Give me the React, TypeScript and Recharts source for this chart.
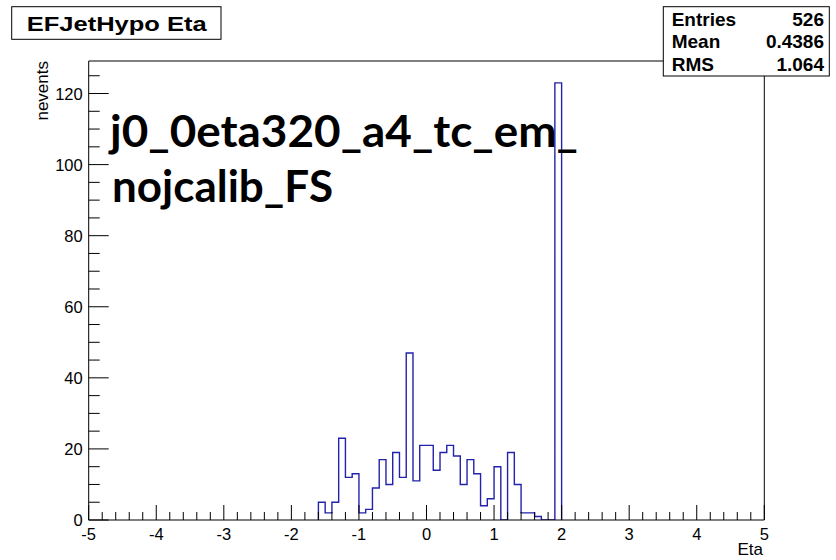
import React from "react";
import { ComposedChart, Line, XAxis, YAxis, ReferenceLine } from "recharts";

// Histogram bins (low edge, width 0.1) and counts
const binLow = [
  -1.6, -1.5, -1.4, -1.3, -1.2, -1.1, -1.0, -0.9, -0.8, -0.7, -0.6, -0.5,
  -0.4, -0.3, -0.2, -0.1, 0.0, 0.1, 0.2, 0.3, 0.4, 0.5, 0.6, 0.7,
  0.8, 0.9, 1.0, 1.1, 1.2, 1.3, 1.4, 1.5, 1.6, 1.7, 1.8, 1.9,
];
const counts = [
  5, 2, 5, 23, 12, 13, 2, 3, 9, 17, 10, 19,
  12, 47, 11, 21, 21, 14, 19, 21, 18, 10, 17, 13,
  4, 6, 15, 0, 19, 10, 2, 2, 1, 0, 0, 123,
];
const lastEdge = 2.0;

const xMajorTicks = [-5, -4, -3, -2, -1, 0, 1, 2, 3, 4, 5];
const yMajorTicks = [0, 20, 40, 60, 80, 100, 120];
const xDomain: [number, number] = [-5, 5];
const yDomain: [number, number] = [0, 129.15];

const titleText = "EFJetHypo Eta";
const statsLabels = ["Entries", "Mean", "RMS"];
const statsValues = ["526", "0.4386", "1.064"];
const annotationLines = ["j0_0eta320_a4_tc_em_", "nojcalib_FS"];
const xLabel = "Eta";
const yLabel = "nevents";

// build step data
const histData: { x: number; y: number }[] = [{ x: binLow[0], y: 0 }];
binLow.forEach((lo, i) => histData.push({ x: lo, y: counts[i] }));
histData.push({ x: lastEdge, y: 0 });

// tick positions: majors plus minor subdivisions
const xTicks: number[] = [];
for (let i = 0; i < xMajorTicks.length; i++) {
  xTicks.push(xMajorTicks[i]);
  if (i < xMajorTicks.length - 1) {
    const a = xMajorTicks[i];
    const b = xMajorTicks[i + 1];
    for (let k = 1; k < 5; k++) xTicks.push(+(a + ((b - a) * k) / 5).toFixed(4));
  }
}
const yTicks: number[] = [];
for (let i = 0; i < yMajorTicks.length; i++) {
  yTicks.push(yMajorTicks[i]);
  const a = yMajorTicks[i];
  const b = i < yMajorTicks.length - 1 ? yMajorTicks[i + 1] : a + 20;
  for (let k = 1; k < 4; k++) {
    const v = a + ((b - a) * k) / 4;
    if (v <= yDomain[1]) yTicks.push(v);
  }
}

const FONT = "'Liberation Sans', Arial, Helvetica, sans-serif";
const ANNOT_FONT = "Lato, 'Open Sans', sans-serif";

const isMajor = (v: number, list: number[]) => list.some((m) => Math.abs(m - v) < 1e-6);

const XTick = (props: any) => {
  const { x, y, payload } = props;
  const major = isMajor(payload.value, xMajorTicks);
  return (
    <g>
      <line x1={x} x2={x} y1={y} y2={y - (major ? 15 : 8)} stroke="#000" strokeWidth={1} />
      {major && (
        <text x={x} y={y + 20} textAnchor="middle" fontFamily={FONT} fontSize={16.5} fill="#000">
          {String(payload.value)}
        </text>
      )}
    </g>
  );
};

const YTick = (props: any) => {
  const { x, y, payload } = props;
  const major = isMajor(payload.value, yMajorTicks);
  return (
    <g>
      <line x1={x} x2={x + (major ? 20 : 11)} y1={y} y2={y} stroke="#000" strokeWidth={1} />
      {major && (
        <text x={x - 6} y={y + 6} textAnchor="end" fontFamily={FONT} fontSize={16.5} fill="#000">
          {String(payload.value)}
        </text>
      )}
    </g>
  );
};

export default function App() {
  return (
    <div style={{ position: "absolute", left: 0, top: 0, width: 836, height: 560, background: "#fff" }}>
      <ComposedChart
        width={836}
        height={560}
        data={histData}
        margin={{ top: 61, right: 71.7, bottom: 10, left: 28.7 }}
      >
        <XAxis
          dataKey="x"
          type="number"
          domain={xDomain}
          ticks={xTicks}
          interval={0}
          tickSize={0}
          tickMargin={0}
          tickLine={false}
          tick={<XTick />}
          axisLine={{ stroke: "#000", strokeWidth: 1 }}
          height={30}
          allowDataOverflow
        />
        <YAxis
          type="number"
          domain={yDomain}
          ticks={yTicks}
          interval={0}
          tickSize={0}
          tickMargin={0}
          tickLine={false}
          tick={<YTick />}
          axisLine={{ stroke: "#000", strokeWidth: 1 }}
          width={60}
          allowDataOverflow
        />
        <ReferenceLine y={yDomain[1]} stroke="#000" strokeWidth={1} ifOverflow="extendDomain" />
        <ReferenceLine x={xDomain[1]} stroke="#000" strokeWidth={1} />
        <Line
          dataKey="y"
          type="stepAfter"
          stroke="#2222aa"
          strokeWidth={1.4}
          dot={false}
          activeDot={false}
          isAnimationActive={false}
        />
      </ComposedChart>
      <svg
        width={836}
        height={560}
        style={{ position: "absolute", left: 0, top: 0, pointerEvents: "none" }}
      >
        {/* title box */}
        <rect x={11.7} y={6.7} width={209.3} height={32.6} fill="#fff" stroke="#000" strokeWidth={1} />
        <text
          x={26.7}
          y={30.5}
          fontFamily={FONT}
          fontWeight="bold"
          fontSize={21}
          textLength={180}
          lengthAdjust="spacingAndGlyphs"
          fill="#000"
        >
          {titleText}
        </text>
        {/* stats box */}
        <rect x={663.3} y={6.7} width={166} height={69.3} fill="#fff" stroke="#000" strokeWidth={1} />
        {statsLabels.map((l, i) => (
          <text key={l} x={671.7} y={26 + i * 22.3} fontFamily={FONT} fontWeight="bold" fontSize={19} fill="#000">
            {l}
          </text>
        ))}
        {statsValues.map((v, i) => (
          <text
            key={v}
            x={824}
            y={26 + i * 22.3}
            textAnchor="end"
            fontFamily={FONT}
            fontWeight="bold"
            fontSize={19}
            fill="#000"
          >
            {v}
          </text>
        ))}
        {/* axis titles */}
        <text
          x={47.5}
          y={61}
          transform="rotate(-90 47.5 61)"
          textAnchor="end"
          fontFamily={FONT}
          fontSize={17}
          fill="#000"
        >
          {yLabel}
        </text>
        <text x={763} y={555} textAnchor="end" fontFamily={FONT} fontSize={17} fill="#000">
          {xLabel}
        </text>
        {/* annotation */}
        <text
          x={110}
          y={146.7}
          fontFamily={ANNOT_FONT}
          fontWeight="bold"
          fontSize={43}
          textLength={468}
          lengthAdjust="spacingAndGlyphs"
          fill="#000"
        >
          {annotationLines[0]}
        </text>
        <text
          x={112}
          y={201.7}
          fontFamily={ANNOT_FONT}
          fontWeight="bold"
          fontSize={43}
          textLength={221}
          lengthAdjust="spacingAndGlyphs"
          fill="#000"
        >
          {annotationLines[1]}
        </text>
      </svg>
    </div>
  );
}
